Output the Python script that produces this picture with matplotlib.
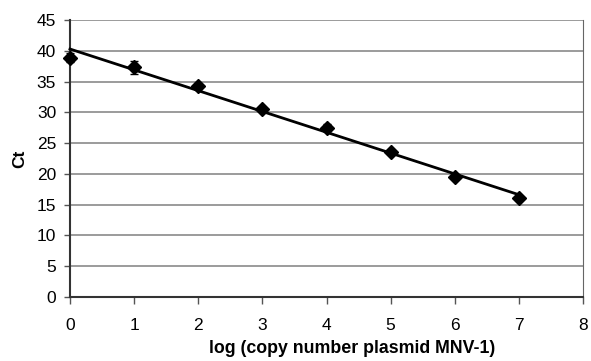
import numpy as np
import matplotlib
matplotlib.use("Agg")
import matplotlib.pyplot as plt

plt.rcParams['font.family'] = ['Liberation Sans', 'DejaVu Sans']

log_copies = [0, 1, 2, 3, 4, 5, 6, 7]
ct_mean = [38.9, 37.3, 34.3, 30.5, 27.5, 23.5, 19.5, 16.1]
ct_err = [0.7, 1.0, 0.5, 0.3, 0.6, 0.3, 0.4, 0.3]

fig = plt.figure(figsize=(5.91, 3.61), dpi=100)
ax = fig.add_axes([70/591, 1 - 297/361, (583-70)/591, (297-20)/361])

slope, intercept = np.polyfit(log_copies, ct_mean, 1)
xs = np.array([0, 7])
ax.plot(xs, slope*xs + intercept, color='black', lw=2, zorder=3, clip_on=False)
eb = ax.errorbar(log_copies, ct_mean, yerr=ct_err, fmt='D', color='black', ms=7.5,
                 ecolor='black', elinewidth=1.2, capsize=3, zorder=4)
eb[0].set_clip_on(False)
for c in eb[1]:
    c.set_clip_on(False)
for c in eb[2]:
    c.set_clip_on(False)

ax.set_xlim(0, 8)
ax.set_ylim(0, 45)
ax.set_xticks(range(0, 9))
ax.set_yticks(range(0, 46, 5))
ax.yaxis.grid(True, color='#8a8a8a', lw=1.2)
ax.set_axisbelow(True)
ax.spines['top'].set_visible(False)
ax.spines['right'].set_color('#666666')
ax.spines['left'].set_color('#333333')
ax.spines['bottom'].set_color('#333333')
ax.spines['left'].set_linewidth(1.5)
ax.spines['bottom'].set_linewidth(1.5)
ax.tick_params(axis='both', direction='out', labelsize=12.5, color='#555555', width=1)
ax.tick_params(axis='x', length=5, pad=10)
ax.tick_params(axis='y', length=4, pad=6)
ax.set_xlabel('log (copy number plasmid MNV-1)', fontsize=12.8, fontweight='bold', labelpad=7)
ax.xaxis.set_label_coords(0.55, -0.155)
ax.set_ylabel('Ct', fontsize=12.5, fontweight='bold', labelpad=7)

fig.savefig('out.png', dpi=100)
